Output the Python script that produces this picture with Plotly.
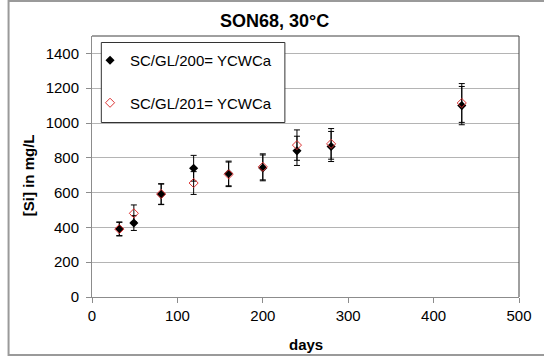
import plotly.graph_objects as go

days = [32, 49, 81, 119, 160, 200, 240, 280, 433]
si_200 = [392, 425, 590, 740, 710, 742, 840, 865, 1100]
si_201 = [390, 481, 592, 655, 705, 748, 873, 880, 1115]
err_frac = 0.10
name_200 = "SC/GL/200= YCWCa"
name_201 = "SC/GL/201= YCWCa"
title = "SON68, 30°C"
x_title = "days"
y_title = "[Si] in mg/L"

FONT = "Liberation Sans, Arial, sans-serif"

L, R, T, B = 92, 527, 36, 297
W, H = 544, 358

def px(x):
    return (x - L) / (R - L)

def py(y):
    return (B - y) / (B - T)

fig = go.Figure()
fig.add_trace(go.Scatter(
    x=days, y=si_200, mode="markers", name=name_200,
    marker=dict(symbol="diamond", size=7, color="black"),
    error_y=dict(type="data", array=[v * err_frac for v in si_200],
                 color="black", thickness=1, width=3),
    legendgroup="a",
))
fig.add_trace(go.Scatter(
    x=days, y=si_201, mode="markers", name=name_201,
    marker=dict(symbol="diamond-open", size=7, color="#dd3333",
                line=dict(width=1, color="#dd3333")),
    error_y=dict(type="data", array=[v * err_frac for v in si_201],
                 color="black", thickness=1, width=3),
    legendgroup="b",
))

axis_common = dict(
    showline=True, linecolor="#8c8c8c", linewidth=1,
    ticks="outside", ticklen=5, tickcolor="#8c8c8c",
    tickfont=dict(family=FONT, size=15, color="black"),
    zeroline=False,
)

fig.update_xaxes(range=[0, 500], dtick=100, tick0=0, showgrid=False, **axis_common)
fig.update_yaxes(range=[0, 1500], dtick=200, tick0=0, showgrid=True,
                 gridcolor="#b4b4b4", gridwidth=1, ticklabelstandoff=4, **axis_common)

shapes = [
    # outer chart frame
    dict(type="rect", xref="paper", yref="paper",
         x0=px(7), x1=px(565), y0=py(355), y1=py(1),
         line=dict(color="#9a9a9a", width=2), layer="below"),
    # plot area top and right border
    dict(type="line", xref="paper", yref="paper", x0=0, x1=1, y0=1, y1=1,
         line=dict(color="#404040", width=1)),
    dict(type="line", xref="paper", yref="paper", x0=1, x1=1, y0=0, y1=1,
         line=dict(color="#404040", width=1)),
    # legend box
    dict(type="rect", xref="paper", yref="paper",
         x0=px(101.5), x1=px(288.5), y0=py(122.5), y1=py(42.5),
         line=dict(color="#333333", width=1), fillcolor="white", layer="above"),
]

annotations = [
    dict(text="<b>%s</b>" % title, x=px(278), y=py(21), xref="paper", yref="paper",
         showarrow=False, xanchor="center", yanchor="middle",
         font=dict(family=FONT, size=18, color="black")),
    dict(text="<b>%s</b>" % x_title, x=px(310), y=py(344), xref="paper", yref="paper",
         showarrow=False, xanchor="center", yanchor="middle",
         font=dict(family=FONT, size=15, color="black")),
    dict(text="<b>%s</b>" % y_title, x=px(27), y=py(175), xref="paper", yref="paper",
         showarrow=False, xanchor="center", yanchor="middle", textangle=-90,
         font=dict(family=FONT, size=15, color="black")),
]

fig.update_layout(
    width=W, height=H,
    margin=dict(l=L, r=W - R, t=T, b=H - B),
    paper_bgcolor="white", plot_bgcolor="white",
    showlegend=True,
    legend=dict(x=px(90), y=py(44), xanchor="left", yanchor="top",
                bgcolor="rgba(0,0,0,0)", borderwidth=0,
                font=dict(family=FONT, size=15, color="black"),
                tracegroupgap=20, itemwidth=30, traceorder="grouped"),
    shapes=shapes, annotations=annotations,
)

fig.write_html("out.html")
